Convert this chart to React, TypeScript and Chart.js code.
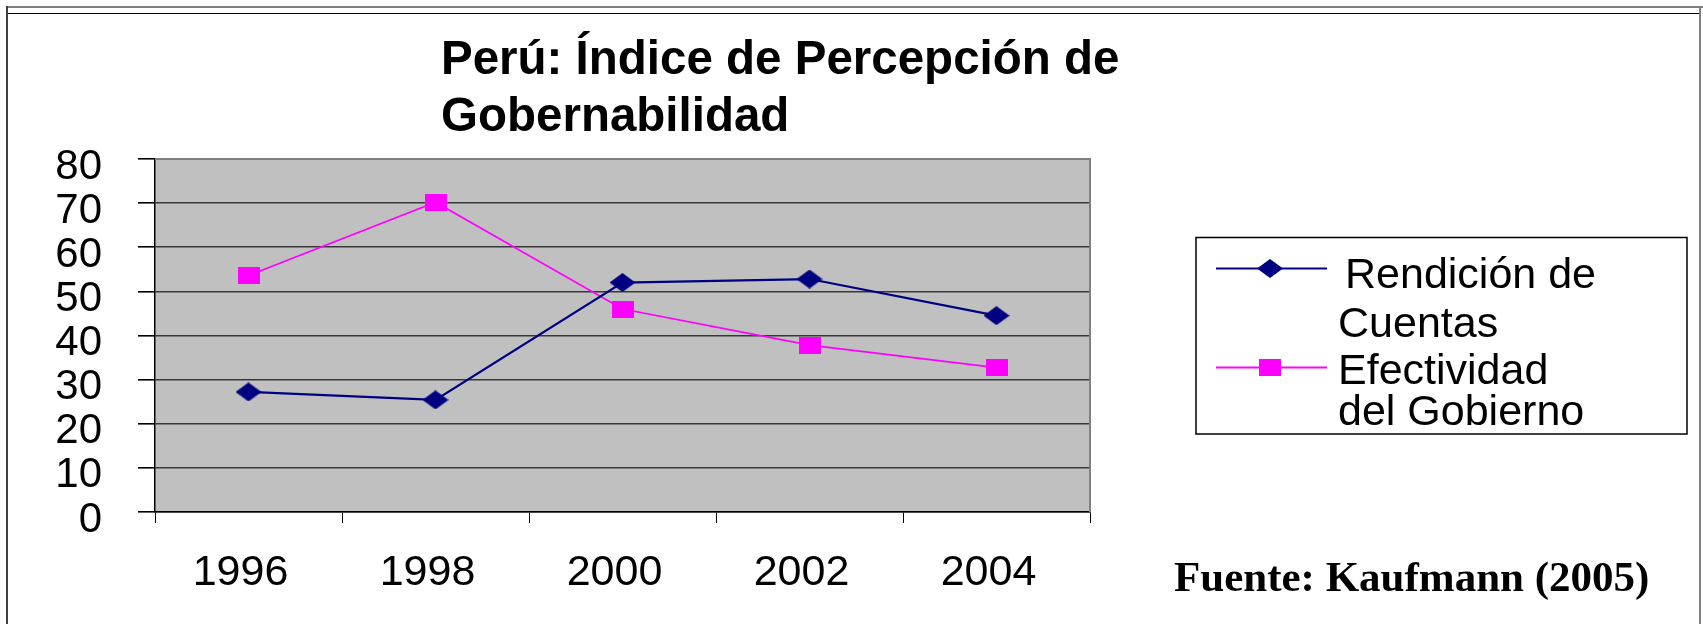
import React, { useEffect, useRef } from 'react';
import { Chart, registerables } from 'chart.js';

Chart.register(...registerables);

// ---- data ----
const categories = ['1996', '1998', '2000', '2002', '2004'];
const rendicionCuentas = [27.2, 25.4, 52.0, 52.8, 44.5];
const efectividadGobierno = [53.6, 70.2, 46.0, 37.8, 32.7];
const yMin = 0;
const yMax = 80;
const yStep = 10;
const seriesLabels = ['Rendición de Cuentas', 'Efectividad del Gobierno'];
const legendLines = [['Rendición de', 'Cuentas'], ['Efectividad', 'del Gobierno']];
const titleLines = ['Perú: Índice de Percepción de', 'Gobernabilidad'];
const sourceText = 'Fuente: Kaufmann (2005)';

const SANS = '"Liberation Sans", Arial, Helvetica, sans-serif';
const SERIF = '"Liberation Serif", "Times New Roman", Times, serif';
const BLUE = '#000080';
const MAGENTA = '#FF00FF';

function makeDiamond(color: string, w: number, h: number) {
  const c = document.createElement('canvas');
  c.width = w;
  c.height = h;
  const g = c.getContext('2d')!;
  g.fillStyle = color;
  g.beginPath();
  g.moveTo(w / 2, 0);
  g.lineTo(w, h / 2);
  g.lineTo(w / 2, h);
  g.lineTo(0, h / 2);
  g.closePath();
  g.fill();
  return c;
}

function makeSquare(color: string, w: number, h: number) {
  const c = document.createElement('canvas');
  c.width = w;
  c.height = h;
  const g = c.getContext('2d')!;
  g.fillStyle = color;
  g.fillRect(0, 0, w, h);
  return c;
}

export default function App() {
  const ref = useRef<HTMLCanvasElement | null>(null);

  useEffect(() => {
    if (!ref.current) return;
    const diamond = makeDiamond(BLUE, 26, 19);
    const square = makeSquare(MAGENTA, 22, 17);
    const markers = [diamond, square];
    const colors = [BLUE, MAGENTA];

    const decor = {
      id: 'decor',
      beforeDraw(chart: any) {
        const { ctx, chartArea: a } = chart;
        ctx.save();
        ctx.fillStyle = '#ffffff';
        ctx.fillRect(0, 0, chart.width, chart.height);
        ctx.fillStyle = '#C0C0C0';
        ctx.fillRect(a.left, a.top, a.right - a.left, a.bottom - a.top);
        ctx.restore();
      },
      afterDraw(chart: any) {
        const { ctx, chartArea: a } = chart;
        ctx.save();
        // plot area top/right border
        ctx.fillStyle = '#808080';
        ctx.fillRect(a.left, a.top - 1, a.right - a.left, 2);
        ctx.fillRect(a.right - 1, a.top - 1, 2, a.bottom - a.top + 1);

        // outer frame
        ctx.fillStyle = '#808080';
        ctx.fillRect(6, 6, chart.width - 6, 2);
        ctx.fillRect(1699, 6, 2, chart.height - 6);
        ctx.fillStyle = '#000000';
        ctx.fillRect(8, 13, 1691, 1);
        ctx.fillStyle = '#404040';
        ctx.fillRect(6, 6, 2, chart.height - 6);

        // title
        ctx.fillStyle = '#000';
        ctx.font = `bold 47.5px ${SANS}`;
        ctx.textBaseline = 'alphabetic';
        ctx.textAlign = 'left';
        const titleBaselines = [74, 131];
        titleLines.forEach((t, i) => {
          ctx.fillText(t, 441, titleBaselines[i]);
        });

        // legend
        const lx = 1196, ly = 237.5, lw = 491, lh = 196.5;
        ctx.fillStyle = '#fff';
        ctx.fillRect(lx, ly, lw, lh);
        ctx.strokeStyle = '#000';
        ctx.lineWidth = 1.5;
        ctx.strokeRect(lx, ly, lw, lh);
        const itemY = [268.5, 367.5];
        const textBase = [[288, 337], [384, 425]];
        const textX = [[1345, 1338], [1338, 1338]];
        chart.data.datasets.forEach((ds: any, i: number) => {
          ctx.strokeStyle = colors[i];
          ctx.lineWidth = 2;
          ctx.beginPath();
          ctx.moveTo(1216, itemY[i]);
          ctx.lineTo(1327, itemY[i]);
          ctx.stroke();
          const m = markers[i];
          ctx.drawImage(m, 1270 - m.width / 2, itemY[i] - m.height / 2);
          ctx.fillStyle = '#000';
          ctx.font = `43px ${SANS}`;
          legendLines[i].forEach((t, j) => {
            ctx.fillText(t, textX[i][j], textBase[i][j]);
          });
        });

        // source
        ctx.fillStyle = '#000';
        ctx.font = `bold 43px ${SERIF}`;
        ctx.fillText(sourceText, 1174, 591);
        ctx.restore();
      },
    };

    const chart = new Chart(ref.current, {
      type: 'line',
      data: {
        labels: categories,
        datasets: [
          {
            label: seriesLabels[0],
            data: rendicionCuentas,
            borderColor: BLUE,
            backgroundColor: BLUE,
            borderWidth: 2.25,
            pointStyle: diamond as any,
            pointRadius: 10,
            tension: 0,
            fill: false,
          },
          {
            label: seriesLabels[1],
            data: efectividadGobierno,
            borderColor: MAGENTA,
            backgroundColor: MAGENTA,
            borderWidth: 1.75,
            pointStyle: square as any,
            pointRadius: 10,
            tension: 0,
            fill: false,
          },
        ],
      },
      options: {
        responsive: false,
        animation: false,
        devicePixelRatio: 1,
        layout: { padding: { top: 159, right: 613, left: 0, bottom: 0 } },
        plugins: {
          legend: { display: false },
          tooltip: { enabled: false },
          title: { display: false },
        },
        scales: {
          x: {
            type: 'category',
            offset: true,
            grid: {
              offset: true,
              drawOnChartArea: false,
              drawTicks: true,
              tickLength: 11,
              color: '#000',
              lineWidth: 1,
            },
            border: { color: '#000', width: 1.5 },
            ticks: {
              font: { family: SANS, size: 43 },
              color: '#000',
              padding: 24,
              labelOffset: -8,
              maxRotation: 0,
              autoSkip: false,
            },
            afterFit: (s: any) => {
              s.height = 112;
            },
          },
          y: {
            min: yMin,
            max: yMax,
            ticks: {
              stepSize: yStep,
              autoSkip: false,
              font: { family: SANS, size: 42 },
              color: '#000',
              padding: 36,
              labelOffset: 8,
            },
            grid: {
              color: (c: any) => (c.tick && c.tick.value === yMax ? '#808080' : '#383838'),
              tickColor: '#000',
              tickLength: 17,
              lineWidth: 1.6,
            },
            border: { color: '#000', width: 1.5 },
            afterFit: (s: any) => {
              s.width = 155;
            },
          },
        },
      },
      plugins: [decor],
    });

    return () => chart.destroy();
  }, []);

  return (
    <div style={{ position: 'absolute', left: 0, top: 0, width: 1703, height: 624 }}>
      <canvas ref={ref} width={1703} height={624} style={{ display: 'block' }} />
    </div>
  );
}
